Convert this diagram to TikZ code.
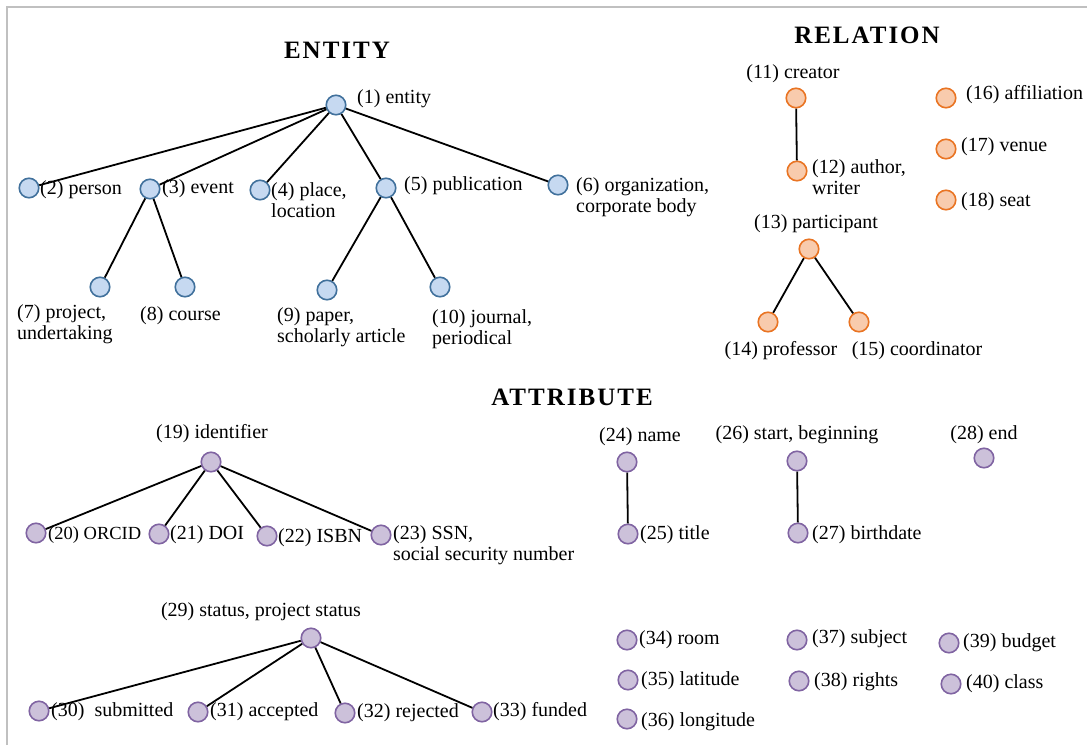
\documentclass[tikz,border=0pt]{standalone}
\usepackage{fontspec}
\setmainfont{Liberation Serif}
\newfontfamily\titlefont[LetterSpace=8]{Liberation Serif}
\definecolor{entfill}{HTML}{C6D9F1}
\definecolor{entdraw}{HTML}{41719C}
\definecolor{relfill}{HTML}{F8CBAD}
\definecolor{reldraw}{HTML}{E97423}
\definecolor{attfill}{HTML}{CCC1DA}
\definecolor{attdraw}{HTML}{8064A2}
\definecolor{frame}{HTML}{C0C0C0}
\begin{document}
\begin{tikzpicture}[x=1pt,y=-1pt,
  dot/.style={circle,minimum size=19.5pt,inner sep=0pt,line width=1.6pt},
  ent/.style={dot,fill=entfill,draw=entdraw},
  rel/.style={dot,fill=relfill,draw=reldraw},
  att/.style={dot,fill=attfill,draw=attdraw},
  lab/.style={inner sep=0pt,font=\fontsize{20}{21.5}\selectfont,align=left,yshift=-2pt},
  ttl/.style={inner sep=0pt,font=\titlefont\bfseries\fontsize{25}{28}\selectfont},
  edge/.style={line width=1.8pt,black}]
\useasboundingbox (0,0) rectangle (1087,745);
\draw[frame,line width=2pt] (7,745) -- (7,7) -- (1087,7);

% titles
\node[ttl] (tent) at (337,50) {ENTITY};
\node[ttl] (trel) at (867,35) {RELATION};
\node[ttl] (tatt) at (572,397) {ATTRIBUTE};

% ENTITY
\node[ent] (e1) at (336,105) {};
\node[ent] (e2) at (29,188) {};
\node[ent] (e3) at (150,189) {};
\node[ent] (e4) at (260,190) {};
\node[ent] (e5) at (386,188) {};
\node[ent] (e6) at (558,185) {};
\node[ent] (e7) at (100,287) {};
\node[ent] (e8) at (185,287) {};
\node[ent] (e9) at (327,290) {};
\node[ent] (e10) at (440,287) {};
\node[lab,anchor=west] (l1) at (357,97) {(1) entity};
\node[lab,anchor=west] (l2) at (40,188) {(2) person};
\node[lab,anchor=west] (l3) at (162,187) {(3) event};
\node[lab,anchor=west] (l4) at (271,198) {(4) place,\\location};
\node[lab,anchor=west] (l5) at (404,184) {(5) publication};
\node[lab,anchor=west] (l6) at (576,195) {(6) organization,\\corporate body};
\node[lab,anchor=west] (l7) at (17,322) {(7) project,\\undertaking};
\node[lab,anchor=west] (l8) at (140,314) {(8) course};
\node[lab,anchor=west] (l9) at (277,325) {(9) paper,\\scholarly article};
\node[lab,anchor=west] (l10) at (432,327) {(10) journal,\\periodical};
\foreach \c in {e2,e3,e4,e5,e6} \draw[edge] (e1) -- (\c);
\draw[edge] (e3) -- (e7);
\draw[edge] (e3) -- (e8);
\draw[edge] (e5) -- (e9);
\draw[edge] (e5) -- (e10);

% RELATION
\node[rel] (r11) at (796,98) {};
\node[rel] (r12) at (797,171) {};
\node[rel] (r13) at (809,249) {};
\node[rel] (r14) at (768,322) {};
\node[rel] (r15) at (859,322) {};
\node[rel] (r16) at (946,98) {};
\node[rel] (r17) at (946,149) {};
\node[rel] (r18) at (946,200) {};
\node[lab] (l11) at (793,72) {(11) creator};
\node[lab,anchor=west] (l12) at (812,175) {(12) author,\\writer};
\node[lab] (l13) at (816,222) {(13) participant};
\node[lab] (l14) at (781,349) {(14) professor};
\node[lab] (l15) at (917,349) {(15) coordinator};
\node[lab,anchor=west] (l16) at (966,93) {(16) affiliation};
\node[lab,anchor=west] (l17) at (961,145) {(17) venue};
\node[lab,anchor=west] (l18) at (961,200) {(18) seat};
\draw[edge] (r11) -- (r12);
\draw[edge] (r13) -- (r14);
\draw[edge] (r13) -- (r15);

% ATTRIBUTE
\node[att] (a19) at (211,462) {};
\node[att] (a20) at (36,533) {};
\node[att] (a21) at (159,534) {};
\node[att] (a22) at (267,536) {};
\node[att] (a23) at (381,535) {};
\node[att] (a24) at (627,462) {};
\node[att] (a25) at (628,534) {};
\node[att] (a26) at (797,461) {};
\node[att] (a27) at (798,533) {};
\node[att] (a28) at (984,458) {};
\node[att] (a29) at (311,638) {};
\node[att] (a30) at (39,711) {};
\node[att] (a31) at (198,712) {};
\node[att] (a32) at (345,713) {};
\node[att] (a33) at (482,712) {};
\node[att] (a34) at (627,640) {};
\node[att] (a35) at (628,680) {};
\node[att] (a36) at (627,719) {};
\node[att] (a37) at (797,640) {};
\node[att] (a38) at (799,681) {};
\node[att] (a39) at (949,643) {};
\node[att] (a40) at (951,684) {};
\node[lab] (l19) at (212,432) {(19) identifier};
\node[lab,anchor=west,font=\fontsize{18.5}{21.5}\selectfont] (l20) at (48,533) {(20) ORCID};
\node[lab,anchor=west] (l21) at (170,533) {(21) DOI};
\node[lab,anchor=west] (l22) at (278,536) {(22) ISBN};
\node[lab,anchor=west] (l23) at (393,543) {(23) SSN,\\social security number};
\node[lab] (l24) at (640,435) {(24) name};
\node[lab,anchor=west] (l25) at (640,533) {(25) title};
\node[lab] (l26) at (797,433) {(26) start, beginning};
\node[lab,anchor=west] (l27) at (812,533) {(27) birthdate};
\node[lab] (l28) at (984,433) {(28) end};
\node[lab] (l29) at (261,610) {(29) status, project status};
\node[lab,anchor=west] (l30) at (51,710) {(30)~ submitted};
\node[lab,anchor=west] (l31) at (210,710) {(31) accepted};
\node[lab,anchor=west] (l32) at (357,711) {(32) rejected};
\node[lab,anchor=west] (l33) at (493,710) {(33) funded};
\node[lab,anchor=west] (l34) at (639,638) {(34) room};
\node[lab,anchor=west] (l35) at (641,679) {(35) latitude};
\node[lab,anchor=west] (l36) at (641,720) {(36) longitude};
\node[lab,anchor=west] (l37) at (812,637) {(37) subject};
\node[lab,anchor=west] (l38) at (814,680) {(38) rights};
\node[lab,anchor=west] (l39) at (963,641) {(39) budget};
\node[lab,anchor=west] (l40) at (966,682) {(40) class};
\foreach \c in {a20,a21,a22,a23} \draw[edge] (a19) -- (\c);
\draw[edge] (a24) -- (a25);
\draw[edge] (a26) -- (a27);
\foreach \c in {a30,a31,a32,a33} \draw[edge] (a29) -- (\c);
\end{tikzpicture}
\end{document}
